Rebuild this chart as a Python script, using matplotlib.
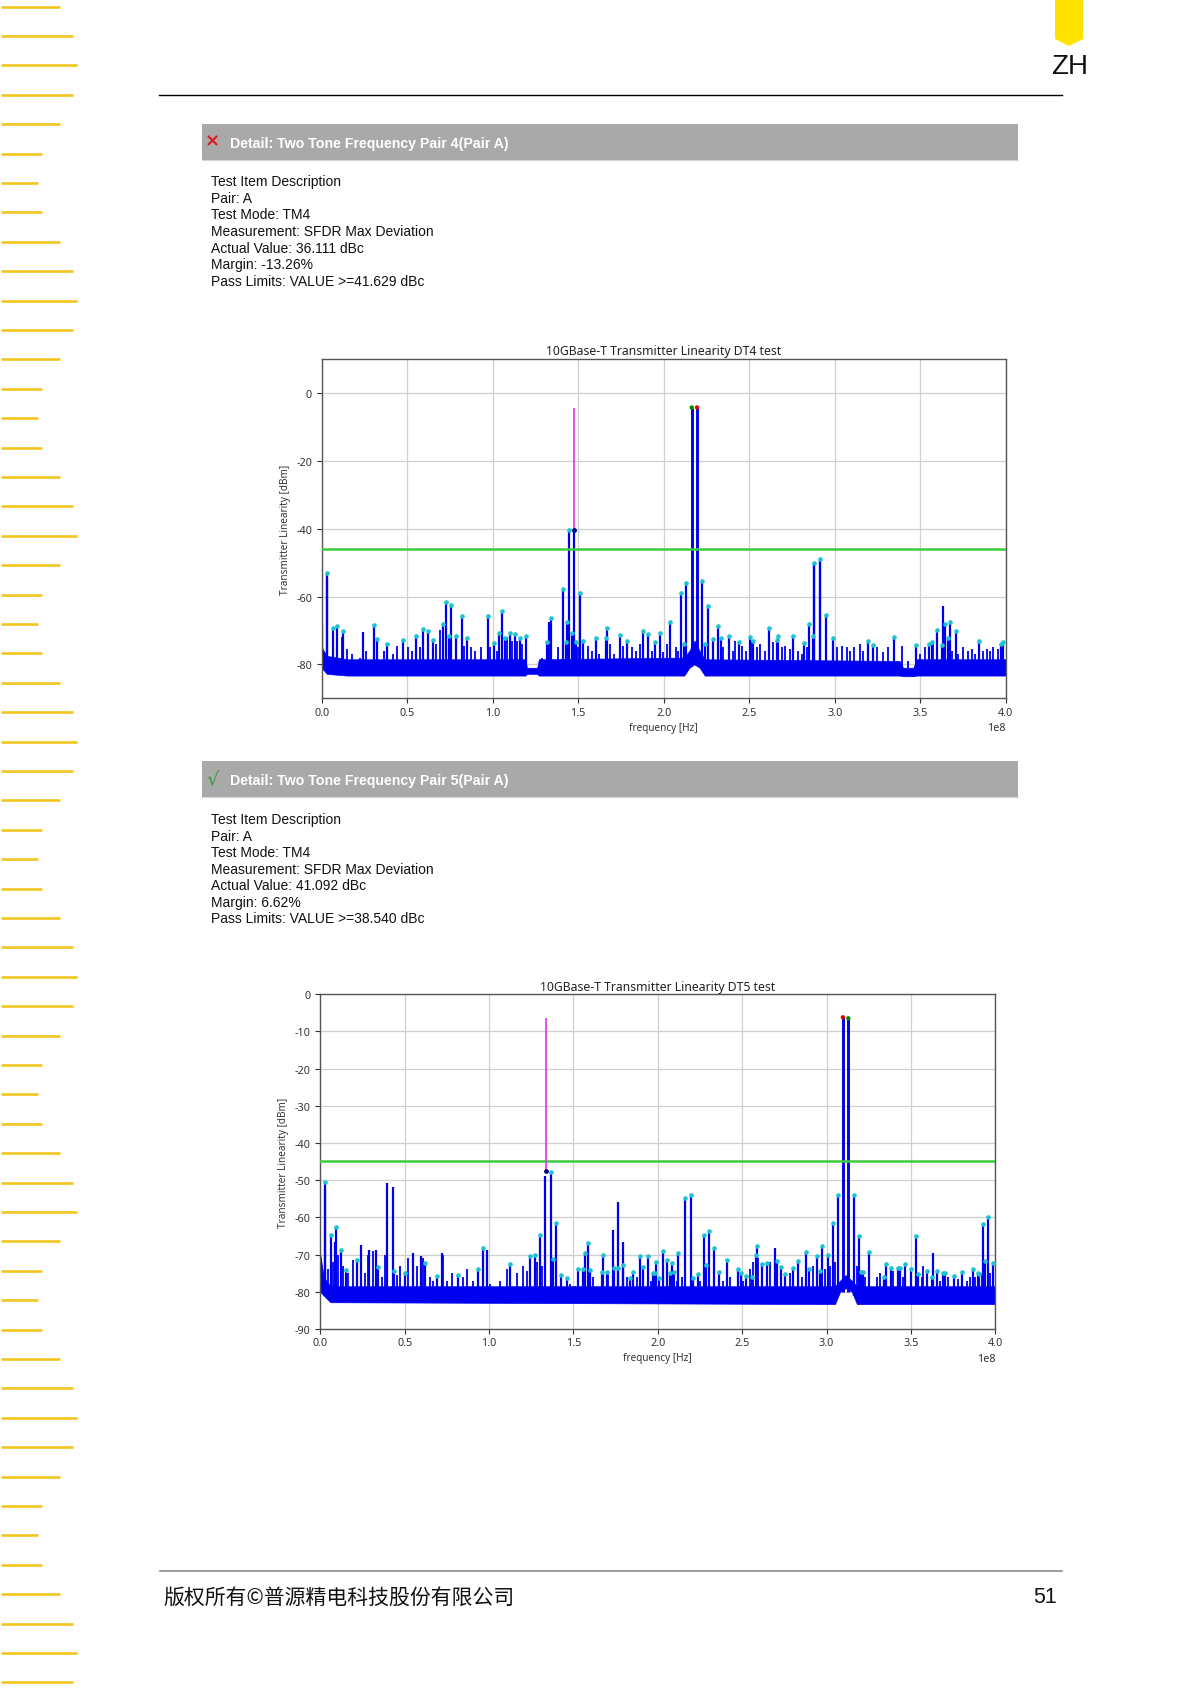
import matplotlib
matplotlib.use("Agg")
import matplotlib.pyplot as plt
from matplotlib.patches import Rectangle, Polygon
from matplotlib.ticker import MultipleLocator

plt.rcParams['font.family'] = ['Noto Sans', 'DejaVu Sans']
plt.rcParams['axes.unicode_minus'] = False

# ---------------- page texts ----------------
header1 = "Detail: Two Tone Frequency Pair 4(Pair A)"
header2 = "Detail: Two Tone Frequency Pair 5(Pair A)"
desc1 = ["Test Item Description", "Pair: A", "Test Mode: TM4",
         "Measurement: SFDR Max Deviation", "Actual Value: 36.111 dBc",
         "Margin: -13.26%", "Pass Limits: VALUE >=41.629 dBc"]
desc2 = ["Test Item Description", "Pair: A", "Test Mode: TM4",
         "Measurement: SFDR Max Deviation", "Actual Value: 41.092 dBc",
         "Margin: 6.62%", "Pass Limits: VALUE >=38.540 dBc"]
footer_text = "版权所有©普源精电科技股份有限公司"
page_number = "51"
margin_len = [59, 72, 76, 72, 59, 41, 37, 41, 59, 72, 76, 72, 59, 41, 37, 41,
              59, 72, 76, 59, 41, 37, 41, 59, 72, 76, 72, 59, 41, 37, 41, 59,
              72, 76, 72, 59, 41, 37, 41, 59, 72, 76, 59, 41, 37, 41, 59, 72,
              76, 72, 59, 41, 37, 41, 59, 72, 76, 72]

# ---------------- chart 1 (DT4) ----------------  frequencies in 1e8 Hz, levels in dBm
c1_title = "10GBase-T Transmitter Linearity DT4 test"
c1_ylim = (-90, 10)
c1_yticks = [0, -20, -40, -60, -80]
c1_limit = -45.9
c1_tone_f = [2.164, 2.195]
c1_tone_db = [-4.3, -4.3]
c1_dev = (1.476, -4.3, -40.5)
c1_floor_f = [0.00, 0.03, 0.15, 1.19, 1.20, 1.26, 1.27, 2.12, 2.15, 2.18, 2.21, 2.24, 3.38, 3.40, 3.46, 3.48, 4.00]
c1_floor_hi = [-75, -77.5, -78.5, -78.5, -81, -81, -78.5, -78, -76, -73, -76, -78.5, -79, -81, -81, -78.5, -78.5]
c1_floor_lo = [-81, -82.8, -83.3, -83.3, -82.8, -82.8, -83.3, -83.3, -81, -80, -81, -83.3, -83.3, -83.5, -83.5, -83.3, -83.3]
c1_spurs = [(0.029, -53.2), (0.064, -69.3), (0.092, -68.6), (0.123, -70.2), (0.304, -68.4), (0.322, -72.4),
            (0.382, -74.1), (0.474, -72.7), (0.554, -71.5), (0.593, -69.6), (0.624, -70.3), (0.651, -72.7),
            (0.710, -68.2), (0.725, -61.5), (0.743, -71.6), (0.756, -62.5), (0.788, -71.5), (0.819, -65.7),
            (0.848, -72.3), (0.975, -65.7), (1.006, -73.6), (1.039, -70.9), (1.053, -64.2), (1.074, -72.1),
            (1.101, -70.9), (1.129, -71.1), (1.158, -72.1), (1.195, -71.6), (1.316, -73.3), (1.339, -66.2),
            (1.413, -57.8), (1.427, -73.5), (1.435, -67.4), (1.444, -40.5), (1.464, -70.8), (1.478, -40.5),
            (1.487, -73.5), (1.509, -59.0), (1.530, -73.0), (1.604, -72.1), (1.665, -72.1), (1.671, -69.4),
            (1.743, -71.4), (1.784, -73.0), (1.881, -70.3), (1.906, -71.1), (1.949, -73.5), (1.977, -70.9),
            (2.037, -67.4), (2.103, -59.0), (2.119, -74.0), (2.133, -56.1), (2.226, -55.4), (2.242, -74.0),
            (2.257, -62.9), (2.287, -72.4), (2.318, -68.6), (2.333, -72.1), (2.380, -71.6), (2.439, -73.3),
            (2.505, -71.8), (2.524, -73.0), (2.616, -69.3), (2.663, -72.8), (2.671, -71.6), (2.756, -71.5),
            (2.819, -73.8), (2.850, -68.1), (2.871, -71.6), (2.881, -50.0), (2.914, -49.0), (2.947, -65.5),
            (2.990, -72.1), (3.193, -73.0), (3.222, -74.2), (3.349, -71.8), (3.474, -74.4), (3.550, -74.0),
            (3.569, -73.3), (3.597, -69.8), (3.630, -74.2), (3.645, -68.2), (3.661, -72.1), (3.674, -67.6),
            (3.710, -70.3), (3.846, -73.2), (3.975, -74.0), (3.983, -73.5)]
c1_peaks = [(0.0, -68.0), (0.029, -54.4), (0.244, -70.4), (1.331, -67.5), (3.636, -62.9), (2.881, -50.5), (2.914, -49.5)]
c1_grass = [(0.117, -72), (0.150, -75.5), (0.175, -77), (0.224, -78), (0.259, -76), (0.365, -76), (0.419, -77),
            (0.439, -74.5), (0.507, -75), (0.526, -76), (0.575, -75), (0.667, -74), (0.692, -70), (0.832, -74.5),
            (0.871, -75), (0.897, -76), (0.932, -75), (0.984, -75), (1.023, -76), (1.086, -72), (1.115, -73),
            (1.140, -73), (1.170, -74), (1.287, -78), (1.384, -75), (1.501, -75), (1.559, -74.5), (1.579, -76),
            (1.624, -77), (1.686, -74), (1.710, -77), (1.764, -74.5), (1.813, -75), (1.838, -76), (1.862, -74),
            (1.930, -76), (1.998, -76.5), (2.018, -74), (2.072, -75), (2.086, -76), (2.290, -73), (2.349, -75),
            (2.404, -76), (2.419, -73), (2.456, -74.5), (2.481, -76), (2.515, -73), (2.544, -75), (2.563, -74),
            (2.593, -76), (2.637, -73.5), (2.690, -75), (2.710, -74.5), (2.739, -75.5), (2.788, -76), (2.807, -77),
            (2.836, -75), (3.011, -75), (3.041, -74.5), (3.070, -75), (3.090, -76), (3.113, -75), (3.148, -74),
            (3.168, -76), (3.246, -75), (3.285, -76.5), (3.314, -75), (3.392, -74.5), (3.431, -79), (3.499, -77),
            (3.528, -75), (3.577, -74), (3.684, -76), (3.723, -77), (3.752, -75), (3.782, -76), (3.801, -75.5),
            (3.821, -77), (3.869, -76), (3.889, -75.5), (3.908, -76), (3.928, -75), (3.957, -75.5)]

# ---------------- chart 2 (DT5) ----------------
c2_title = "10GBase-T Transmitter Linearity DT5 test"
c2_ylim = (-90, 0)
c2_yticks = [0, -10, -20, -30, -40, -50, -60, -70, -80, -90]
c2_limit = -44.8
c2_tone_f = [3.097, 3.129]
c2_tone_db = [-6.2, -6.45]
c2_dev = (1.335, -6.3, -47.6)
c2_floor_f = [0.00, 0.02, 0.06, 3.05, 3.08, 3.113, 3.15, 3.18, 4.00]
c2_floor_hi = [-70, -76, -78.5, -78.5, -77, -75.5, -77, -78.5, -78.5]
c2_floor_lo = [-80, -81, -82.8, -83.3, -80, -79, -80, -83.3, -83.3]
c2_spurs = [(0.030, -50.6), (0.061, -64.7), (0.093, -62.5), (0.122, -68.7), (0.150, -74.1), (0.219, -71.4),
            (0.344, -73.4), (0.437, -74.5), (0.500, -74.9), (0.622, -72.2), (0.689, -75.7), (0.814, -75.5),
            (0.936, -74.0), (0.966, -68.3), (1.124, -72.5), (1.242, -70.3), (1.270, -70.0), (1.302, -64.7),
            (1.367, -47.9), (1.377, -71.2), (1.397, -61.6), (1.426, -75.5), (1.460, -76.4), (1.525, -74.0),
            (1.559, -74.0), (1.569, -69.6), (1.588, -67.0), (1.598, -74.2), (1.667, -74.8), (1.677, -70.1),
            (1.697, -74.8), (1.742, -73.7), (1.766, -73.7), (1.796, -72.8), (1.835, -76.3), (1.853, -74.8),
            (1.894, -70.5), (1.914, -73.4), (1.944, -70.5), (1.969, -74.9), (1.983, -74.9), (1.989, -72.1),
            (2.007, -76.4), (2.029, -69.1), (2.056, -71.4), (2.072, -74.9), (2.084, -72.2), (2.096, -74.8),
            (2.121, -69.6), (2.161, -54.9), (2.195, -54.1), (2.210, -76.3), (2.240, -75.2), (2.274, -64.7),
            (2.286, -72.8), (2.303, -63.7), (2.333, -68.3), (2.364, -74.8), (2.408, -71.4), (2.477, -73.9),
            (2.491, -74.9), (2.522, -75.7), (2.558, -76.1), (2.580, -70.0), (2.590, -67.6), (2.615, -72.5),
            (2.645, -72.2), (2.704, -71.8), (2.730, -73.4), (2.754, -75.2), (2.803, -73.7), (2.833, -71.8),
            (2.878, -69.2), (2.898, -73.9), (2.944, -70.3), (2.961, -74.5), (2.973, -67.8), (3.007, -70.1),
            (3.036, -61.6), (3.066, -54.1), (3.163, -54.1), (3.192, -65.1), (3.204, -74.8), (3.214, -74.8),
            (3.253, -69.4), (3.340, -76.1), (3.350, -72.5), (3.380, -73.7), (3.425, -73.6), (3.435, -73.6),
            (3.465, -72.5), (3.500, -73.9), (3.530, -65.1), (3.540, -75.2), (3.597, -74.3), (3.626, -76.1),
            (3.656, -74.3), (3.688, -75.0), (3.701, -75.0), (3.755, -75.7), (3.804, -74.8), (3.866, -74.0),
            (3.895, -75.0), (3.905, -75.2), (3.929, -61.8), (3.939, -71.6), (3.959, -59.8), (3.989, -72.2)]
c2_peaks = [(0.030, -52.3), (0.395, -50.8), (0.429, -51.7), (0.239, -67.4), (0.087, -66.7), (0.990, -68.7),
            (0.721, -69.6), (0.551, -69.6), (0.595, -70.3), (0.290, -68.7), (0.330, -68.7), (1.333, -48.8),
            (1.762, -55.8), (1.732, -63.3), (1.791, -66.5), (2.694, -68.3), (3.632, -69.6)]
c2_grass = [(0.047, -74), (0.077, -72), (0.107, -70), (0.136, -73), (0.166, -75), (0.196, -71.5), (0.265, -75),
            (0.284, -70), (0.314, -69), (0.363, -76), (0.383, -70), (0.452, -75.5), (0.472, -73), (0.521, -71),
            (0.571, -73), (0.610, -71), (0.650, -76), (0.670, -77), (0.725, -70), (0.749, -77), (0.778, -75),
            (0.847, -76), (0.867, -74), (0.907, -77), (1.005, -78), (1.065, -77), (1.104, -74), (1.163, -75),
            (1.203, -73), (1.223, -74.5), (1.282, -72), (1.312, -73), (1.480, -78), (1.509, -78.5), (1.618, -76),
            (1.707, -75), (1.815, -76), (1.875, -76), (1.958, -77), (2.112, -77), (2.141, -76), (2.250, -77),
            (2.388, -77), (2.428, -76), (2.507, -77), (2.546, -74), (2.566, -72), (2.596, -71), (2.665, -72),
            (2.783, -75), (2.852, -76), (2.921, -73), (2.991, -74), (3.020, -73), (3.050, -72), (3.178, -73),
            (3.228, -76), (3.297, -76), (3.317, -75), (3.396, -74.5), (3.455, -76), (3.563, -76), (3.573, -73),
            (3.672, -77), (3.722, -76), (3.781, -76.5), (3.830, -77), (3.850, -76), (3.880, -76), (3.919, -75),
            (3.968, -75)]

SCALE = 1e8
W, H = 1197, 1690
fig = plt.figure(figsize=(W / 100, H / 100), dpi=100)

# ---------------- page decoration (pixel coordinates) ----------------
bg = fig.add_axes([0, 0, 1, 1])
bg.set_xlim(0, W)
bg.set_ylim(H, 0)
bg.axis('off')

for i, L in enumerate(margin_len):
    y = 7.5 + 29.4 * i
    bg.plot([1, 1 + L], [y, y], color='#f2c522', lw=1.9, solid_capstyle='butt')

bg.add_patch(Polygon([(1055, 0), (1083, 0), (1083, 40), (1069, 47), (1055, 40)],
                     closed=True, color='#ffe200', lw=0))
bg.text(1051, 67, "ZH", fontsize=20, family='Liberation Sans', va='center', ha='left', color='#111111')
bg.plot([159, 1062], [96, 96], color='black', lw=1.0)

LS = 'Liberation Sans'
for (ytop, head, mark, mcol, mx, msize, mweight, desc, y0) in [
        (125, header1, '×', '#e5141c', 205, 13, 'bold', desc1, 182.3),
        (762, header2, '√', '#3b9b3b', 206, 14, 'normal', desc2, 820.0)]:
    bg.add_patch(Rectangle((202, ytop), 816, 35.5, color='#a9a9a9', lw=0))
    bg.plot([202, 1018], [ytop + 36, ytop + 36], color='#d5d5d5', lw=0.8)
    bg.text(mx, ytop + 16.5, mark, color=mcol, fontsize=msize, fontweight=mweight,
            family='DejaVu Sans', va='center', ha='left')
    bg.text(230, ytop + 19, head, color='white', fontsize=10.2, fontweight='bold', family=LS,
            va='center', ha='left')
    for k, line in enumerate(desc):
        bg.text(211.3, y0 + 16.57 * k, line, fontsize=10, family=LS, va='center', ha='left', color='#111111')

bg.plot([159.6, 1061.7], [1571.7, 1571.7], color='#8c8c8c', lw=1.2)
bg.text(163, 1598, footer_text, family=['Noto Sans CJK SC', 'DejaVu Sans'], fontsize=15,
        va='center', ha='left', color='#111111')
bg.text(1056.5, 1598, page_number, family=LS, fontsize=15.5, va='center', ha='right', color='#111111')


# ---------------- charts ----------------
def draw_chart(rect, title, ylim, yticks, floor_f, floor_hi, floor_lo, spurs, peaks, grass,
               tone_f, tone_db, tone_cols, dev, limit, title_pad):
    ax = fig.add_axes([rect[0] / W, 1 - rect[3] / H, (rect[2] - rect[0]) / W, (rect[3] - rect[1]) / H])
    blue = '#0000f0'
    ax.fill_between([f * SCALE for f in floor_f], floor_lo, floor_hi, color=blue, lw=0.5, zorder=2)
    ax.vlines([f * SCALE for f, d in grass], -81, [d for f, d in grass], color=blue, lw=1.3, zorder=2)
    ax.vlines([f * SCALE for f, d in peaks], -81, [d for f, d in peaks], color=blue, lw=1.6, zorder=2)
    ax.vlines([f * SCALE for f, d in spurs], -81, [d for f, d in spurs], color=blue, lw=1.6, zorder=2)
    ax.vlines([f * SCALE for f in tone_f], -80, tone_db, color=blue, lw=2.1, zorder=3)
    ax.axhline(limit, color='#3ccc3c', lw=1.8, zorder=4)
    ax.vlines([dev[0] * SCALE], dev[2], dev[1], color='#e030e8', lw=1.2, zorder=4)
    ax.scatter([f * SCALE for f, d in spurs], [d for f, d in spurs], s=11, color='#1ec3d2', lw=0, zorder=5)
    ax.scatter([dev[0] * SCALE], [dev[2]], s=12, color='#000090', lw=0, zorder=6)
    ax.scatter([f * SCALE for f in tone_f], tone_db, s=10, color=tone_cols, lw=0, zorder=6)

    ax.set_xlim(0, 4 * SCALE)
    ax.set_ylim(*ylim)
    ax.xaxis.set_major_locator(MultipleLocator(0.5 * SCALE))
    ax.set_yticks(yticks)
    ax.grid(True, color='#cfcfcf', lw=0.9, zorder=0)
    ax.set_axisbelow(True)
    for s in ax.spines.values():
        s.set_color('#555555')
        s.set_linewidth(1.0)
    ax.tick_params(labelsize=7.8, colors='#333333', length=3.5, width=0.8)
    ax.tick_params(axis='x', pad=2.5)
    ax.xaxis.get_offset_text().set_fontsize(7.8)
    ax.xaxis.get_offset_text().set_color('#333333')
    ax.set_xlabel("frequency [Hz]", fontsize=7.2, color='#333333', labelpad=3)
    ax.set_ylabel("Transmitter Linearity [dBm]", fontsize=7.2, color='#333333', labelpad=4)
    ax.set_title(title, fontsize=8.8, color='#222222', pad=title_pad)
    return ax


draw_chart((321.7, 360.0, 1005.7, 699.3), c1_title, c1_ylim, c1_yticks, c1_floor_f, c1_floor_hi, c1_floor_lo,
           c1_spurs, c1_peaks, c1_grass, c1_tone_f, c1_tone_db, ['#008a00', '#e00000'], c1_dev, c1_limit, 3.5)
draw_chart((320.3, 995.3, 995.3, 1330.0), c2_title, c2_ylim, c2_yticks, c2_floor_f, c2_floor_hi, c2_floor_lo,
           c2_spurs, c2_peaks, c2_grass, c2_tone_f, c2_tone_db, ['#e00000', '#008a00'], c2_dev, c2_limit, 3.0)

fig.savefig("out.png", dpi=100)
